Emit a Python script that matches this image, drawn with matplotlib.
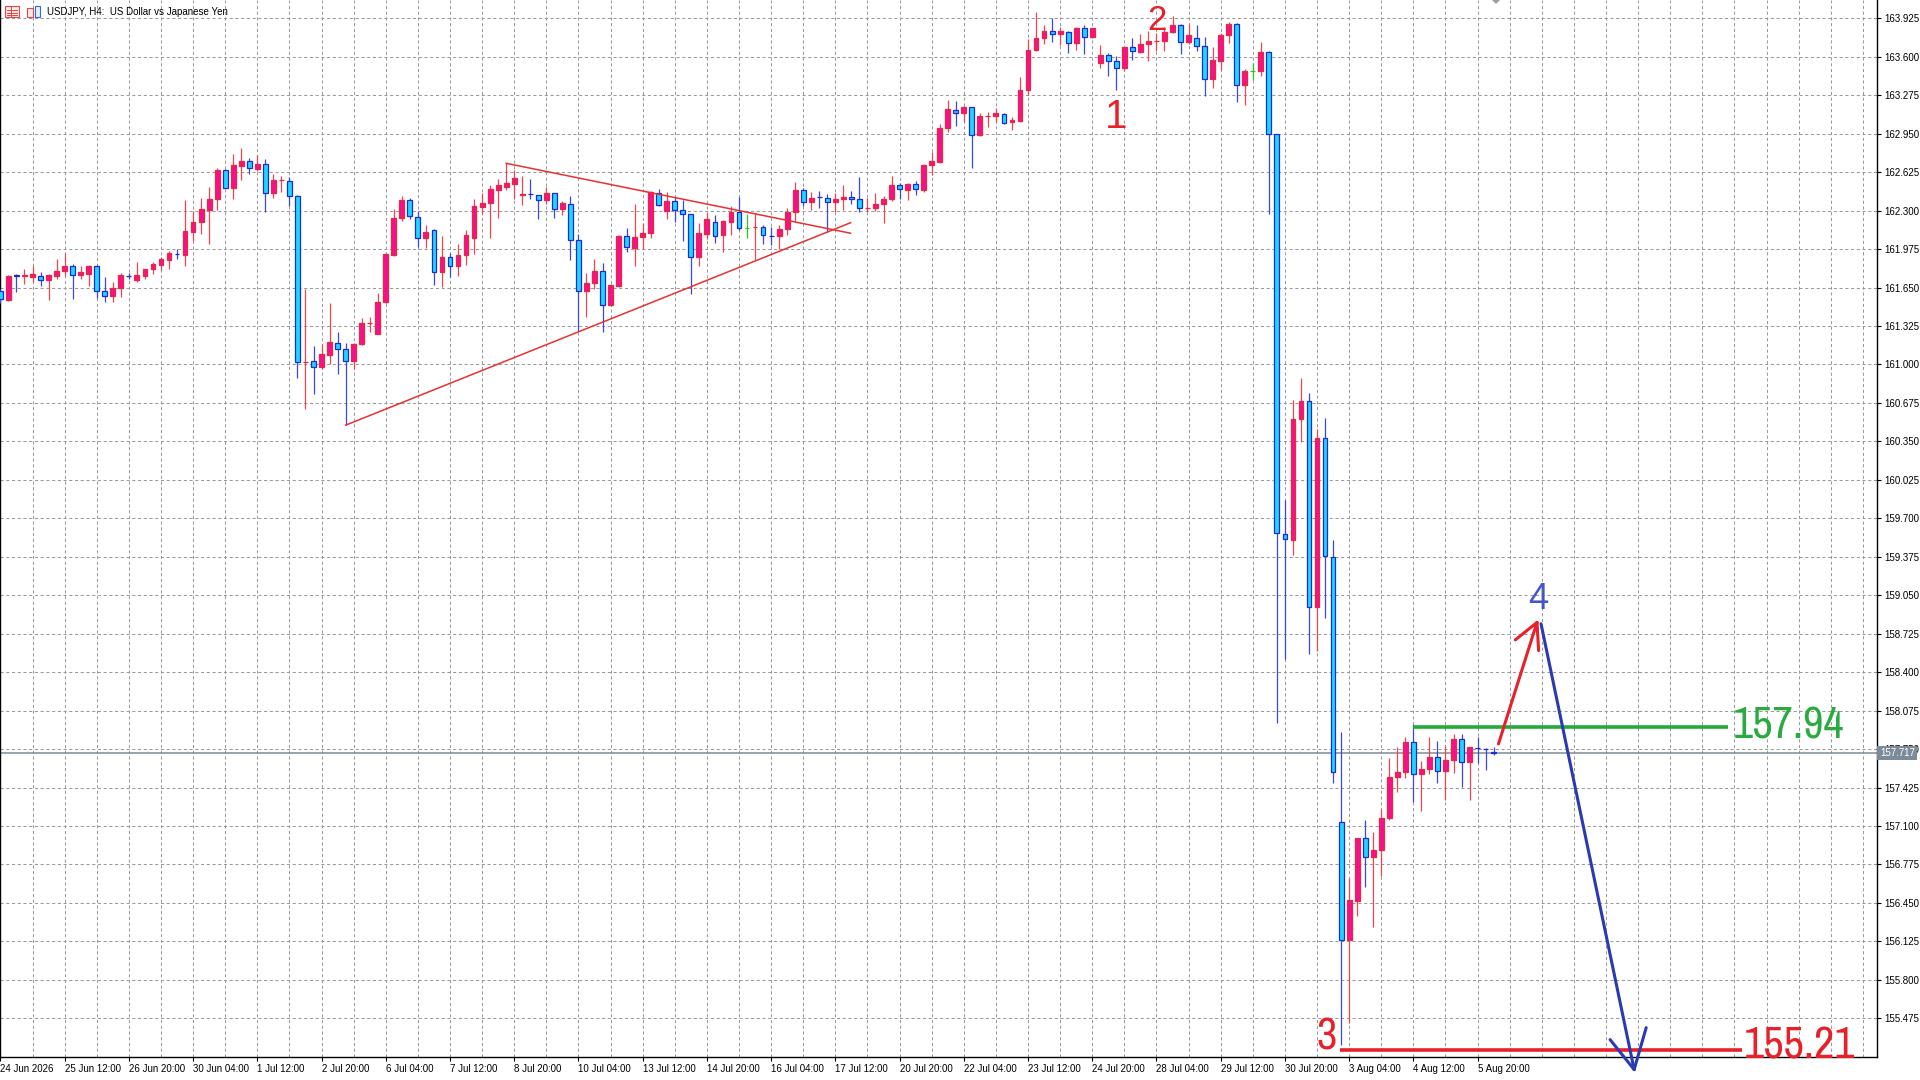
import matplotlib
matplotlib.use("Agg")
import numpy as np
import matplotlib.pyplot as plt
from matplotlib import font_manager as fm
from matplotlib.font_manager import FontProperties
from matplotlib.patches import Rectangle, Polygon
from matplotlib.transforms import blended_transform_factory

# USDJPY H4 bars, one entry per bar starting 24 Jun 2026
opens = [161.62, 161.545, 161.752, 161.750, 161.74, 161.75, 161.71, 161.75, 161.787, 161.83,
         161.757, 161.765, 161.835, 161.618, 161.582, 161.647, 161.750, 161.71, 161.75, 161.806,
         161.84, 161.885, 161.935, 161.924, 162.123, 162.20, 162.306, 162.396, 162.643, 162.494,
         162.676, 162.72, 162.654, 162.69, 162.446, 162.558, 162.55, 162.424, 161.018, 161.029,
         160.978, 161.077, 161.18, 161.133, 161.026, 161.17, 161.350, 161.26, 161.526, 161.924,
         162.236, 162.39, 162.25, 162.065, 162.135, 161.784, 161.905, 161.83, 161.924, 162.073,
         162.334, 162.362, 162.474, 162.503, 162.528, 162.436, 162.440, 162.43, 162.39, 162.446,
         162.312, 162.354, 162.05, 161.624, 161.686, 161.787, 161.506, 161.666, 162.087, 161.983,
         162.079, 162.107, 162.446, 162.298, 162.382, 162.306, 162.27, 161.905, 162.10, 162.20,
         162.096, 162.20, 162.29, 162.157, 162.164, 162.166, 162.089, 162.087, 162.143, 162.29,
         162.472, 162.373, 162.417, 162.41, 162.376, 162.396, 162.418, 162.396, 162.324, 162.326,
         162.354, 162.396, 162.514, 162.472, 162.528, 162.472, 162.682, 162.713, 162.999, 163.148,
         163.126, 163.173, 162.943, 163.101, 163.10, 163.117, 163.047, 163.056, 163.322, 163.659,
         163.757, 163.819, 163.794, 163.813, 163.715, 163.842, 163.766, 163.547, 163.617, 163.566,
         163.505, 163.679, 163.637, 163.707, 163.735, 163.737, 163.808, 163.87, 163.723, 163.757,
         163.695, 163.415, 163.566, 163.785, 163.878, 163.364, 163.477, 163.477, 163.637, 162.947,
         159.57, 159.516, 160.542, 160.689, 158.948, 160.377, 159.37, 157.134, 156.138, 156.468,
         156.999, 156.841, 156.896, 157.164, 157.512, 157.556, 157.812, 157.537, 157.585, 157.684,
         157.567, 157.658, 157.831, 157.64, 157.759, 157.752, 157.722]
highs = [161.64, 161.76, 161.765, 161.81, 161.835, 161.78, 161.765, 161.89, 161.94, 161.85,
         161.835, 161.84, 161.84, 161.74, 161.70, 161.77, 161.77, 161.868, 161.81, 161.862,
         161.905, 161.96, 161.975, 162.39, 162.30, 162.41, 162.50, 162.657, 162.648, 162.775,
         162.83, 162.747, 162.766, 162.733, 162.606, 162.59, 162.587, 162.43, 161.638, 161.16,
         161.175, 161.52, 161.273, 161.18, 161.18, 161.391, 161.40, 161.60, 161.941, 162.312,
         162.424, 162.41, 162.298, 162.177, 162.143, 162.082, 161.94, 162.017, 162.135, 162.40,
         162.452, 162.514, 162.564, 162.70, 162.643, 162.593, 162.57, 162.43, 162.50, 162.452,
         162.382, 162.424, 162.10, 161.77, 161.891, 161.857, 161.68, 162.093, 162.157, 162.354,
         162.194, 162.466, 162.48, 162.458, 162.415, 162.388, 162.275, 162.194, 162.284, 162.26,
         162.22, 162.34, 162.415, 162.27, 162.28, 162.177, 162.166, 162.177, 162.326, 162.54,
         162.494, 162.458, 162.466, 162.438, 162.452, 162.514, 162.466, 162.584, 162.41, 162.452,
         162.424, 162.592, 162.536, 162.536, 162.55, 162.69, 162.794, 163.028, 163.238, 163.224,
         163.187, 163.176, 163.126, 163.131, 163.168, 163.126, 163.092, 163.429, 163.749, 163.976,
         163.87, 163.925, 163.856, 163.819, 163.856, 163.87, 163.847, 163.70, 163.631, 163.603,
         163.687, 163.757, 163.79, 163.822, 163.80, 163.856, 163.945, 163.878, 163.878, 163.869,
         163.771, 163.687, 163.805, 163.898, 163.884, 163.496, 163.547, 163.729, 163.645, 162.95,
         159.853, 160.70, 160.89, 160.762, 160.458, 160.55, 159.516, 157.893, 156.658, 157.0,
         157.153, 157.05, 157.244, 157.677, 157.768, 157.856, 157.959, 157.647, 157.849, 157.82,
         157.776, 157.875, 157.878, 157.768, 157.85, 157.757, 157.768]
lows = [161.52, 161.54, 161.615, 161.68, 161.70, 161.66, 161.545, 161.72, 161.75, 161.55,
        161.72, 161.66, 161.56, 161.526, 161.526, 161.568, 161.72, 161.70, 161.72, 161.765,
        161.80, 161.806, 161.89, 161.835, 162.045, 162.10, 162.017, 162.306, 162.49, 162.40,
        162.56, 162.606, 162.634, 162.29, 162.41, 162.46, 162.34, 160.886, 160.628, 160.754,
        160.965, 161.0, 160.92, 160.487, 160.965, 161.161, 161.273, 161.254, 161.52, 161.919,
        162.214, 162.228, 161.99, 161.983, 161.672, 161.658, 161.736, 161.75, 161.84, 161.93,
        162.27, 162.065, 162.24, 162.474, 162.40, 162.345, 162.396, 162.233, 162.354, 162.242,
        162.264, 161.885, 161.279, 161.405, 161.638, 161.273, 161.49, 161.658, 161.947, 161.829,
        161.98, 162.065, 162.34, 162.228, 162.208, 162.045, 161.596, 161.83, 162.059, 162.03,
        161.952, 162.093, 162.137, 162.065, 161.885, 162.017, 162.008, 161.975, 162.093, 162.213,
        162.34, 162.306, 162.326, 162.121, 162.29, 162.306, 162.354, 162.29, 162.29, 162.298,
        162.199, 162.382, 162.40, 162.388, 162.43, 162.458, 162.598, 162.705, 162.963, 163.013,
        163.047, 162.663, 162.929, 163.005, 163.047, 163.036, 162.985, 163.047, 163.28, 163.653,
        163.71, 163.729, 163.70, 163.63, 163.659, 163.625, 163.757, 163.505, 163.44, 163.317,
        163.491, 163.575, 163.631, 163.566, 163.653, 163.653, 163.80, 163.625, 163.71, 163.653,
        163.266, 163.336, 163.485, 163.715, 163.216, 163.196, 163.406, 163.44, 162.275, 157.97,
        158.509, 159.388, 160.348, 158.552, 158.582, 158.857, 157.464, 155.247, 155.438, 156.336,
        156.585, 156.244, 156.676, 157.153, 157.39, 157.508, 157.30, 157.226, 157.537, 157.464,
        157.318, 157.545, 157.428, 157.318, 157.63, 157.574, 157.70]
closes = [161.55, 161.75, 161.750, 161.752, 161.763, 161.71, 161.76, 161.787, 161.83, 161.76,
          161.78, 161.835, 161.618, 161.582, 161.647, 161.76, 161.748, 161.76, 161.806, 161.848,
          161.89, 161.94, 161.933, 162.129, 162.20, 162.312, 162.40, 162.643, 162.494, 162.682,
          162.72, 162.657, 162.69, 162.446, 162.56, 162.560, 162.424, 161.02, 161.020, 160.978,
          161.09, 161.19, 161.133, 161.026, 161.17, 161.352, 161.352, 161.531, 161.933, 162.242,
          162.39, 162.256, 162.065, 162.121, 161.784, 161.905, 161.83, 161.927, 162.093, 162.34,
          162.362, 162.48, 162.514, 162.533, 162.573, 162.438, 162.438, 162.39, 162.446, 162.312,
          162.362, 162.05, 161.624, 161.689, 161.787, 161.506, 161.672, 162.087, 161.989, 162.079,
          162.11, 162.458, 162.348, 162.382, 162.306, 162.27, 161.905, 162.107, 162.227, 162.087,
          162.211, 162.29, 162.157, 162.157, 162.166, 162.093, 162.087, 162.143, 162.29, 162.472,
          162.373, 162.41, 162.415, 162.376, 162.396, 162.418, 162.396, 162.326, 162.326, 162.354,
          162.396, 162.514, 162.48, 162.528, 162.48, 162.682, 162.718, 162.999, 163.159, 163.126,
          163.173, 162.943, 163.103, 163.103, 163.126, 163.041, 163.064, 163.322, 163.659, 163.757,
          163.819, 163.794, 163.819, 163.715, 163.842, 163.766, 163.842, 163.617, 163.566, 163.505,
          163.679, 163.651, 163.71, 163.737, 163.737, 163.808, 163.87, 163.729, 163.785, 163.695,
          163.415, 163.575, 163.785, 163.878, 163.364, 163.477, 163.477, 163.637, 162.949, 159.58,
          159.527, 160.542, 160.689, 158.948, 160.377, 159.38, 157.556, 156.138, 156.475, 156.999,
          156.841, 156.896, 157.164, 157.512, 157.556, 157.812, 157.537, 157.585, 157.684, 157.567,
          157.658, 157.831, 157.64, 157.765, 157.757, 157.750, 157.717]

date_ticks = [0, 8, 16, 24, 32, 40, 48, 56, 64, 72, 80, 88, 96, 104, 112, 120,
              128, 136, 144, 152, 160, 168, 176, 184]
date_labels = ["24 Jun 2026", "25 Jun 12:00", "26 Jun 20:00", "30 Jun 04:00", "1 Jul 12:00",
               "2 Jul 20:00", "6 Jul 04:00", "7 Jul 12:00", "8 Jul 20:00", "10 Jul 04:00",
               "13 Jul 12:00", "14 Jul 20:00", "16 Jul 04:00", "17 Jul 12:00", "20 Jul 20:00",
               "22 Jul 04:00", "23 Jul 12:00", "24 Jul 20:00", "28 Jul 04:00", "29 Jul 12:00",
               "30 Jul 20:00", "3 Aug 04:00", "4 Aug 12:00", "5 Aug 20:00"]
price_ticks = [163.925, 163.600, 163.275, 162.950, 162.625, 162.300, 161.975, 161.650,
               161.325, 161.000, 160.675, 160.350, 160.025, 159.700, 159.375, 159.050,
               158.725, 158.400, 158.075, 157.750, 157.425, 157.100, 156.775, 156.450,
               156.125, 155.800, 155.475]

last_price = 157.717
resist_level = 157.94
support_level = 155.21

# hand-drawn analysis objects (bar index, price)
tri_upper = [(63, 162.70), (105.9, 162.109)]
tri_lower = [(43, 160.487), (105.9, 162.198)]
resist_span = (176, 215.2)
support_span = (166.8, 216.9)
red_arrow = [(186.6, 157.794), (191.4, 158.82)]
red_barbs = [(188.7, 158.673), (191.6, 158.582)]
blue_arrow = [(191.9, 158.809), (203.5, 155.042)]
blue_barbs = [(200.5, 155.295), (205.0, 155.396)]
wave_labels = [("1", 139.0, 163.092, "#e8202a", 29),
               ("2", 144.1, 163.907, "#e8202a", 25),
               ("4", 191.5, 159.01, "#4455cc", 26)]

BULL_FILL, BULL_EDGE, BULL_WICK = "#f5108e", "#e8283c", "#f04452"
BEAR_FILL, BEAR_EDGE, BEAR_WICK = "#20d8ff", "#1c2ad8", "#3a48dc"
DOJI = "#22cc22"
GRID = "#9a9a9a"
SMALL_FONT = ["Liberation Sans", "DejaVu Sans"]


def narrow_font_file():
    # MT4 draws the price labels in a tall narrow face; use whatever condensed face exists
    best = None
    for f in fm.fontManager.ttflist:
        key = (f.name + " " + f.fname).lower()
        if f.style != "normal" or f.weight not in (400, "normal", "regular"):
            continue
        if any(w in key for w in ("bold", "light", "thin", "medium", "black", "semibold", "italic")):
            continue
        if "narrow" in key:
            rank = 0
        elif "condensed" in key or "cond" in key:
            rank = 3 if "semi" in key else (2 if "extra" in key else 1)
        else:
            continue
        if best is None or rank < best[0]:
            best = (rank, f.fname)
    return best[1] if best else None


NARROW = narrow_font_file()


def big(size):
    if NARROW:
        return FontProperties(fname=NARROW, size=size)
    return FontProperties(family="Liberation Sans", size=size * 0.86)


W, H = 1920, 1080
fig = plt.figure(figsize=(W / 100, H / 100), dpi=100)
fig.patch.set_facecolor("white")
ax = fig.add_axes([0, 23 / H, 1877 / W, 1057 / H])
ax.set_facecolor("white")

x = np.arange(len(opens))
o = np.array(opens)
hi = np.array(highs)
lo = np.array(lows)
c = np.array(closes)

up = c > o
down = c < o
flat = c == o

# wicks
ax.vlines(x[up], lo[up], hi[up], color=BULL_WICK, lw=0.9, zorder=3)
ax.vlines(x[down], lo[down], hi[down], color=BEAR_WICK, lw=0.9, zorder=3)
ax.vlines(x[flat], lo[flat], hi[flat], color=DOJI, lw=0.9, zorder=3)

# bodies
bw = 0.6
ax.bar(x[up], (c - o)[up], bottom=o[up], width=bw, color=BULL_FILL,
       edgecolor=BULL_EDGE, linewidth=0.9, zorder=4)
ax.bar(x[down], (o - c)[down], bottom=c[down], width=bw, color=BEAR_FILL,
       edgecolor=BEAR_EDGE, linewidth=0.9, zorder=4)
ax.hlines(c[flat], x[flat] - bw / 2, x[flat] + bw / 2, color=DOJI, lw=0.9, zorder=4)

# grid
for p in price_ticks:
    ax.axhline(p, color=GRID, lw=0.75, ls=(0, (3, 2.5)), zorder=1)
for gx in range(0, 236, 4):
    ax.axvline(gx, color=GRID, lw=0.75, ls=(0, (3, 2.5)), zorder=1)

# current price line
ax.axhline(last_price, color="#808b97", lw=1.1, zorder=2)

# triangle
for seg in (tri_upper, tri_lower):
    ax.plot([seg[0][0], seg[1][0]], [seg[0][1], seg[1][1]], color="#e83030", lw=1.1, zorder=5)

# levels
ax.plot(resist_span, [resist_level] * 2, color="#22aa3a", lw=2.6, zorder=6,
        solid_capstyle="butt")
ax.plot(support_span, [support_level] * 2, color="#e8202a", lw=2.6, zorder=6,
        solid_capstyle="butt", clip_on=False)
ax.text(resist_span[1] + 0.6, resist_level, "157.94", color="#2aaa40", fontproperties=big(32),
        ha="left", va="center", zorder=7)
ax.text(support_span[1] + 0.3, support_level + 0.03, "155.21", color="#e8202a",
        fontproperties=big(32), ha="left", va="center", zorder=7, clip_on=False)
ax.text(support_span[0] - 0.3, support_level + 0.1, "3", color="#e8202a", fontproperties=big(32),
        ha="right", va="center", zorder=7)

# wave numbers are in a regular-width face
for txt, bx, py, col, fs in wave_labels:
    ax.text(bx, py, txt, color=col, fontsize=fs, family=SMALL_FONT, ha="center", va="center",
            zorder=7, clip_on=False)

# arrows
(ax0, ay0), (ax1, ay1) = red_arrow
ax.plot([ax0, ax1], [ay0, ay1], color="#e8202a", lw=2.2, zorder=6, solid_capstyle="round")
for bx, by in red_barbs:
    ax.plot([ax1, bx], [ay1, by], color="#e8202a", lw=2.2, zorder=6, solid_capstyle="round")
(bx0, by0), (bx1, by1) = blue_arrow
ax.plot([bx0, bx1], [by0, by1], color="#2a3ab0", lw=2.2, zorder=6, clip_on=False,
        solid_capstyle="round")
for bx, by in blue_barbs:
    ax.plot([bx1, bx], [by1, by], color="#2a3ab0", lw=2.2, zorder=6, clip_on=False,
            solid_capstyle="round")

# axes
ax.set_xlim(-0.05, 233.75)
ax.set_ylim(155.148, 164.080)
ax.spines["top"].set_visible(False)
for s in ax.spines.values():
    s.set_color("black")
    s.set_linewidth(1.0)
ax.yaxis.tick_right()
ax.set_yticks(price_ticks)
ax.set_yticklabels([f"{p:.3f}" for p in price_ticks], family=SMALL_FONT, fontsize=7)
ax.set_xticks(date_ticks)
ax.set_xticklabels(date_labels, family=SMALL_FONT, fontsize=7, ha="left")
ax.tick_params(axis="y", direction="out", length=3, width=0.8, pad=2, colors="black")
ax.tick_params(axis="x", direction="out", length=3, width=0.8, pad=2, colors="black")

# current price tag
tag = blended_transform_factory(ax.transAxes, ax.transData)
ax.text(1.0015, last_price, "157.717", transform=tag, fontsize=7, family=SMALL_FONT,
        color="white", ha="left", va="center", zorder=10, clip_on=False,
        bbox=dict(boxstyle="square,pad=0.25", facecolor="#7d8a98", edgecolor="none"))

# title and toolbar icons on a pixel overlay
ov = fig.add_axes([0, 0, 1, 1], facecolor="none")
ov.set_xlim(0, W)
ov.set_ylim(H, 0)
ov.axis("off")
ov.add_patch(Rectangle((5, 6), 14, 11, facecolor="#fde8e8", edgecolor="#e04848", lw=0.8))
for yy in (9.5, 12.5, 15):
    ov.plot([7, 17], [yy, yy], color="#e04848", lw=0.7)
ov.plot([11, 11], [6, 17], color="#e04848", lw=0.7)
ov.add_patch(Rectangle((27, 8), 6, 9, facecolor="#fde8e8", edgecolor="#e04848", lw=0.8))
ov.add_patch(Rectangle((35, 6), 5, 11, facecolor="#dff2ff", edgecolor="#3a6ad0", lw=0.8))
ov.text(47, 12, "USDJPY, H4:  US Dollar vs Japanese Yen", fontsize=7, family=SMALL_FONT,
        color="black", ha="left", va="center")
ov.add_patch(Polygon([(1492, 0), (1500, 0), (1496, 4)], closed=True,
                     facecolor="#a0a0a0", edgecolor="none"))

fig.savefig("out.png", dpi=100)
